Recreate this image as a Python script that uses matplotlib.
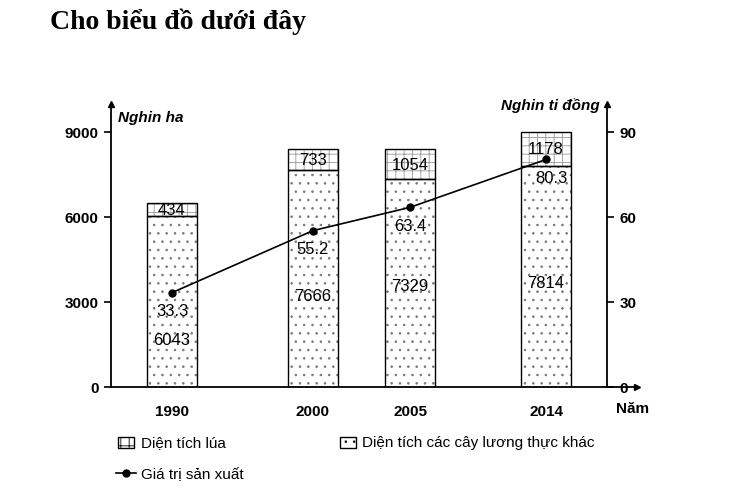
import matplotlib.pyplot as plt
from matplotlib.patches import Rectangle
from matplotlib.lines import Line2D

years = ['1990', '2000', '2005', '2014']
rice_area = [6043, 7666, 7329, 7814]
other_area = [434, 733, 1054, 1178]
prod_value = [33.3, 55.2, 63.4, 80.3]

# layout (pixel-like x scale, matching the printed figure)
xpos = [172, 313, 410, 546]
rice_label_y = [1694, 3212, 3565, 3700]

plt.rcParams['font.family'] = ['Liberation Sans', 'DejaVu Sans']
plt.rcParams['hatch.linewidth'] = 0.6

W, H = 750, 502
fig = plt.figure(figsize=(7.5, 5.02), dpi=100)


def fx(x):
    return x / W


def fy(y):
    return 1 - y / H


ax = fig.add_axes([fx(111), fy(388), (637 - 111) / W, (388 - 105) / H])
ax.set_xlim(111, 637)
ax.set_ylim(0, 9000 * 283 / 255)

# bars: hatch layer in grey, outline in black
ax.bar(xpos, rice_area, width=50, color='white', edgecolor='#777777',
       hatch='..', linewidth=0)
ax.bar(xpos, other_area, width=50, bottom=rice_area, color='white',
       edgecolor='#999999', hatch='++', linewidth=0)
ax.bar(xpos, rice_area, width=50, fill=False, edgecolor='black', linewidth=1)
ax.bar(xpos, other_area, width=50, bottom=rice_area, fill=False,
       edgecolor='black', linewidth=1)

for x, r, o, ly in zip(xpos, rice_area, other_area, rice_label_y):
    ax.text(x, r + o / 2, str(o), ha='center', va='center', fontsize=12)
    ax.text(x, ly, str(r), ha='center', va='center', fontsize=12)

for s in ['top', 'right']:
    ax.spines[s].set_visible(False)
ax.spines['left'].set_linewidth(1.3)
ax.spines['bottom'].set_linewidth(1.3)
ax.set_yticks([0, 3000, 6000, 9000])
ax.set_yticklabels(['0', '3000', '6000', '9000'], fontweight='bold', fontsize=11)
ax.tick_params(axis='y', length=5, width=1.2, pad=4)
ax.set_xticks(xpos)
ax.set_xticklabels(years, fontweight='bold', fontsize=11)
ax.tick_params(axis='x', length=0, pad=12)

ax.plot(0, 1, '^k', markersize=5, transform=ax.transAxes, clip_on=False)
ax.plot(1, 0, '>k', markersize=5, transform=ax.transAxes, clip_on=False)

# right axis
ax2 = ax.twinx()
ax2.set_ylim(0, 90 * 283 / 255)
for s in ['top', 'left', 'bottom']:
    ax2.spines[s].set_visible(False)
ax2.spines['right'].set_position(('data', 607))
ax2.spines['right'].set_linewidth(1.3)
ax2.set_yticks([0, 30, 60, 90])
ax2.set_yticklabels(['0', '30', '60', '90'], fontweight='bold', fontsize=11)
ax2.tick_params(axis='y', length=5, width=1.2, pad=4)
ax2.plot(607, ax2.get_ylim()[1], '^k', markersize=5, clip_on=False)

ax2.plot(xpos, prod_value, color='black', linewidth=1.2, marker='o',
         markersize=5)
for i, (x, v) in enumerate(zip(xpos, prod_value)):
    dx = 4 if i == len(xpos) - 1 else 0
    ax2.annotate(f'{v}', (x, v), xytext=(dx, -13), textcoords='offset points',
                 ha='center', va='center', fontsize=12)

# texts
fig.text(fx(50), fy(22), 'Cho biểu đồ dưới đây', fontsize=20, fontweight='bold',
         family=['Liberation Serif', 'DejaVu Serif'], va='center', ha='left')
fig.text(fx(118), fy(118), 'Nghin ha', fontsize=11, fontweight='bold',
         fontstyle='italic', va='center', ha='left')
fig.text(fx(600), fy(106), 'Nghin ti đồng', fontsize=11, fontweight='bold',
         fontstyle='italic', va='center', ha='right')
fig.text(fx(633), fy(409), 'Năm', fontsize=11, fontweight='bold',
         va='center', ha='center')

# legend drawn by hand
fig.add_artist(Rectangle((fx(118), fy(449)), 16 / W, 11 / H,
                         transform=fig.transFigure, facecolor='white',
                         edgecolor='black', hatch='++', linewidth=1))
fig.text(fx(141), fy(443), 'Diện tích lúa', fontsize=11, va='center')
fig.add_artist(Rectangle((fx(340), fy(449)), 16 / W, 11 / H,
                         transform=fig.transFigure, facecolor='white',
                         edgecolor='black', hatch='..', linewidth=1))
fig.text(fx(362), fy(443), 'Diện tích các cây lương thực khác', fontsize=11,
         va='center')
fig.add_artist(Line2D([fx(116), fx(136)], [fy(474), fy(474)],
                      transform=fig.transFigure, color='black', linewidth=1.2))
fig.add_artist(Line2D([fx(126)], [fy(474)], transform=fig.transFigure,
                      color='black', marker='o', markersize=5))
fig.text(fx(141), fy(475), 'Giá trị sản xuất', fontsize=11, va='center')

fig.savefig('out.png', dpi=100)
